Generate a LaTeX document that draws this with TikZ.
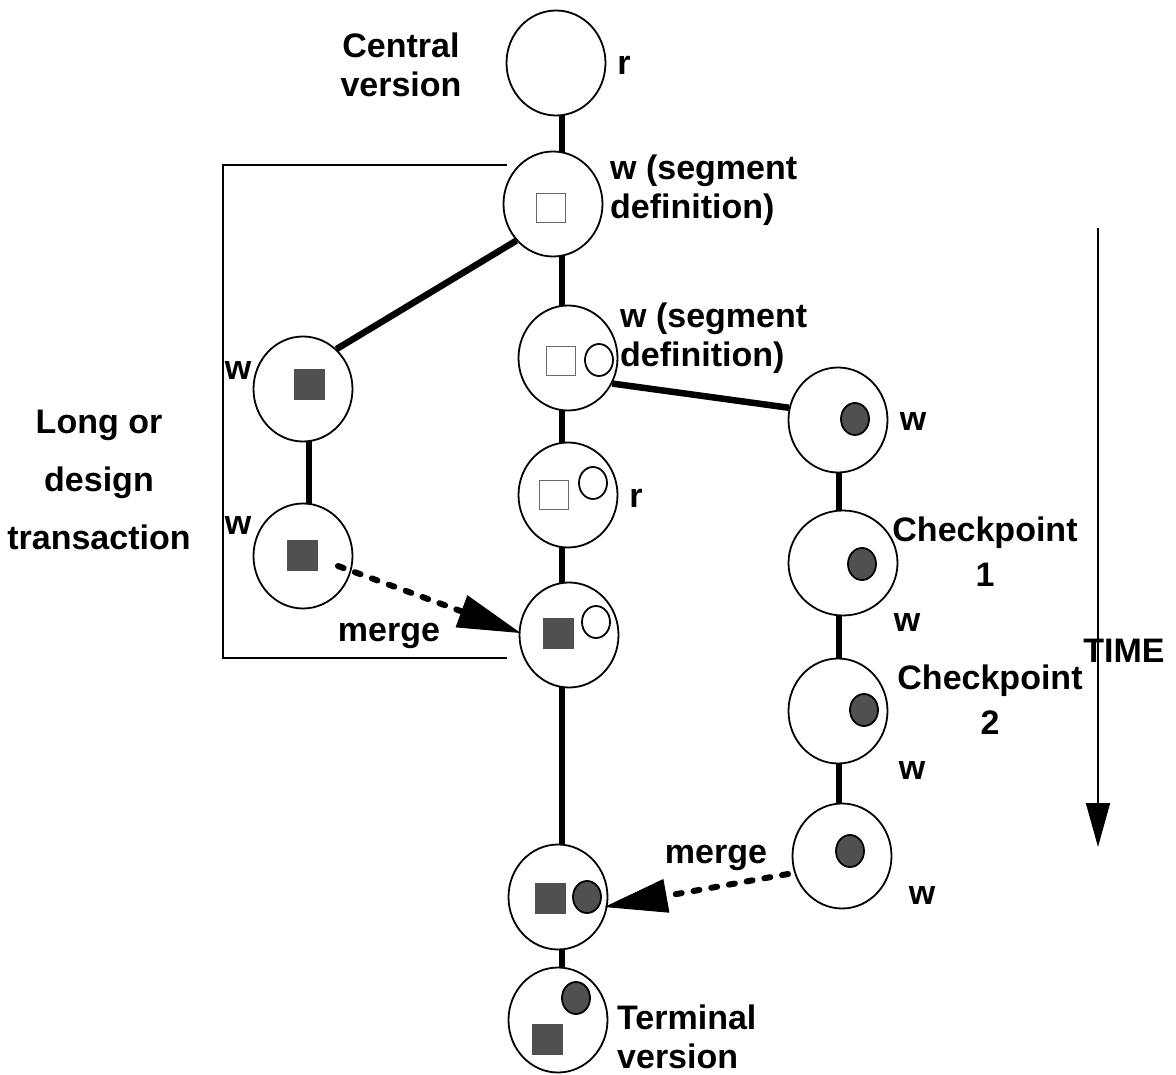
\documentclass[tikz,border=0pt]{standalone}
\usepackage{fontspec}
\setmainfont{Liberation Sans}
\usetikzlibrary{shapes.geometric,arrows.meta,backgrounds,calc}
\definecolor{dk}{HTML}{505050}
\definecolor{sqgray}{HTML}{6A6A6A}
\begin{document}
\begin{tikzpicture}[x=1pt,y=-1pt,
 ver/.style={ellipse,draw,line width=1.8pt,fill=white,minimum width=99pt,minimum height=105pt,inner sep=0pt},
 sqo/.style={rectangle,draw=sqgray,line width=1.8pt,minimum size=29pt,inner sep=0pt},
 sqf/.style={rectangle,fill=dk,minimum size=31pt,inner sep=0pt},
 cio/.style={ellipse,draw,line width=1.8pt,minimum width=28pt,minimum height=32pt,inner sep=0pt},
 cif/.style={cio,fill=dk},
 lbl/.style={font=\fontsize{34}{39}\selectfont\bfseries,inner sep=0pt},
 conn/.style={line width=6.5pt},
 thinline/.style={line width=1.8pt},
 mergearrow/.style={line width=6pt,line cap=round,dash pattern=on 6pt off 12pt,-{Triangle[length=63pt,width=34pt,line width=1pt]}},
]
\useasboundingbox (0,0) rectangle (1176,1075);

% version nodes
\node[ver] (C1) at (556,63) {};
\node[ver] (C2) at (553,204) {};
\node[ver] (C3) at (568,358) {};
\node[ver] (C4) at (568,495) {};
\node[ver] (C5) at (569,635) {};
\node[ver] (C6) at (558,897) {};
\node[ver] (C7) at (558,1020) {};
\node[ver] (L1) at (303,389) {};
\node[ver] (L2) at (303,556) {};
\node[ver] (R1) at (838,420) {};
\node[ver,minimum width=109pt] (R2) at (843,563) {};
\node[ver] (R3) at (838,711) {};
\node[ver] (R4) at (842,856) {};

\coordinate (spine) at (562,0);
\coordinate (lspine) at (309,0);
\coordinate (rspine) at (839,0);

\begin{scope}[on background layer]
\draw[conn] (C1 -| spine) -- (C2 -| spine);
\draw[conn] (C2 -| spine) -- (C3 -| spine);
\draw[conn] (C3 -| spine) -- (C4 -| spine);
\draw[conn] (C4 -| spine) -- (C5 -| spine);
\draw[conn] (C5 -| spine) -- (C6 -| spine);
\draw[conn] (C6 -| spine) -- (C7 -| spine);
\draw[conn] (L1 -| lspine) -- (L2 -| lspine);
\draw[conn] (R1 -| rspine) -- (R2 -| rspine);
\draw[conn] (R2 -| rspine) -- (R3 -| rspine);
\draw[conn] (R3 -| rspine) -- (R4 -| rspine);
\end{scope}
\draw[conn] (C2.225) -- (L1.50);
\draw[conn] (C3.-30) -- (R1.166);

% bracket
\coordinate (b1) at (507,165);
\coordinate (b2) at (223,658);
\coordinate (b3) at (507,658);
\draw[thinline] (b1) -| (b2) -- (b3);

% markers
\node[sqo] (C2s) at (551,208) {};
\node[sqo] (C3s) at (561,361) {};
\node[cio] (C3c) at (599,360) {};
\node[sqo] (C4s) at (554,495) {};
\node[cio] (C4c) at (593,483) {};
\node[sqf] (C5s) at (558,633) {};
\node[cio] (C5c) at (596,622) {};
\node[sqf] (L1s) at (309,385) {};
\node[sqf] (L2s) at (302,555) {};
\node[sqf] (C6s) at (550,898) {};
\node[cif] (C6c) at (587,897) {};
\node[cif] (C7c) at (576,998) {};
\node[sqf] (C7s) at (547,1039) {};
\node[cif] (R1c) at (855,419) {};
\node[cif] (R2c) at (862,564) {};
\node[cif] (R3c) at (864,710) {};
\node[cif] (R4c) at (850,851) {};

% merge arrows
\draw[mergearrow] ($(L2)+(35,10)$) -- ($(C5.west)+(2,-2)$);
\draw[mergearrow] ($(R4)+(-54,18)$) -- ($(C6.east)+(-4,10)$);

% time arrow
\coordinate (t1) at (1098,228);
\coordinate (t2) at (1098,847);
\draw[thinline,-{Triangle[length=44pt,width=24pt]}] (t1) -- (t2);

% labels
\node[lbl,align=center] (lcentral) at (401,65) {Central\\version};
\node[lbl] (lr1) at (624,65) {r};
\node[lbl,align=left,anchor=west] (lw1) at (610,190) {w (segment\\definition)};
\node[lbl,align=left,anchor=west] (lw2) at (620,338) {w (segment\\definition)};
\node[lbl] (lr2) at (636,498) {r};
\node[lbl] (lwl1) at (238,371) {w};
\node[lbl] (lwl2) at (238,526) {w};
\node[lbl,align=center,font=\fontsize{34}{58}\selectfont\bfseries] (llong) at (99,480) {Long or\\design\\transaction};
\node[lbl] (lm1) at (389,636) {merge};
\node[lbl] (lm2) at (716,858) {merge};
\node[lbl] (lwr1) at (913,422) {w};
\node[lbl,align=center,font=\fontsize{34}{45}\selectfont\bfseries] (lcp1) at (985,552) {Checkpoint\\1};
\node[lbl] (lwr2) at (907,623) {w};
\node[lbl,align=center,font=\fontsize{34}{45}\selectfont\bfseries] (lcp2) at (990,700) {Checkpoint\\2};
\node[lbl] (lwr3) at (912,771) {w};
\node[lbl] (lwr4) at (922,896) {w};
\node[lbl] (ltime) at (1124,651) {TIME};
\node[lbl,align=left,anchor=west] (lterm) at (617,1037) {Terminal\\version};
\end{tikzpicture}
\end{document}
